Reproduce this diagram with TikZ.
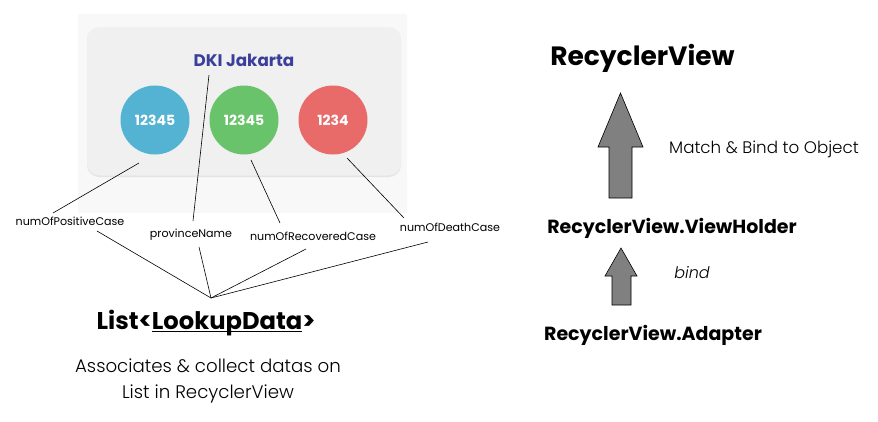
\documentclass[tikz,border=0pt]{standalone}
\usepackage{fontspec}
\setmainfont{Poppins}
\newfontfamily\poplight{Poppins Light}
\definecolor{panel}{HTML}{F8F8F8}
\definecolor{card}{HTML}{F0F0F0}
\definecolor{cardsh}{HTML}{E4E4E4}
\definecolor{cblue}{HTML}{54B3D3}
\definecolor{cgreen}{HTML}{69C36A}
\definecolor{cred}{HTML}{E86A69}
\definecolor{dki}{HTML}{3B3F9C}
\definecolor{arrowgray}{HTML}{808080}
\newcommand\myul[1]{\leavevmode\setbox0\hbox{#1}\rlap{\rule[-3pt]{\wd0}{1pt}}\box0}
\begin{document}
\begin{tikzpicture}[x=1pt,y=-1pt,
  circ/.style={circle,minimum size=69pt,inner sep=0pt,text=white,font=\bfseries\fontsize{14}{16}\selectfont},
  lbl/.style={inner sep=0pt,anchor=base,font=\fontsize{11.1}{13}\selectfont},
  conn/.style={draw=black,line width=0.6pt},
  bigtxt/.style={inner sep=0pt,anchor=base,font=\bfseries\fontsize{26.5}{30}\selectfont},
  midtxt/.style={inner sep=0pt,anchor=base,font=\bfseries\fontsize{19}{22}\selectfont},
  desc/.style={inner sep=0pt,anchor=base,font=\poplight\fontsize{18.2}{21}\selectfont},
  blockarrow/.style={fill=arrowgray,draw=black,line width=0.6pt}]
\useasboundingbox (0,0) rectangle (878,421);
% panel and card
\fill[panel] (78,14) rectangle (407,213);
\fill[cardsh,rounded corners=12pt] (87,28) rectangle (401,177);
\fill[card,rounded corners=12pt] (87,27) rectangle (401,175.5);
\node[inner sep=0pt,anchor=base,text=dki,font=\bfseries\fontsize{16.8}{19}\selectfont] (dkin) at (244,66) {DKI Jakarta};
\node[circ,fill=cblue] (cb) at (155,120) {12345};
\node[circ,fill=cgreen] (cg) at (244,120) {12345};
\node[circ,fill=cred] (cr) at (333,120) {1234};
% labels
\node[lbl] (lpos) at (70,225) {numOfPositiveCase};
\node[lbl] (lprov) at (191,237.5) {provinceName};
\node[lbl] (lrec) at (313,240.5) {numOfRecoveredCase};
\node[lbl] (ldeath) at (450,231.5) {numOfDeathCase};
% connector ends
\coordinate (pb) at (139,163);
\coordinate (pb2) at (53,213);
\coordinate (pd) at (209,75);
\coordinate (pd2) at (193,221);
\coordinate (pg) at (251,160);
\coordinate (pg2) at (280,223);
\coordinate (pr) at (347,158);
\coordinate (pr2) at (404,218);
\coordinate (qpos) at (97,231);
\coordinate (qprov) at (199,247);
\coordinate (qrec) at (306,249);
\coordinate (qdeath) at (428,242);
\coordinate (hub) at (211,298);
\draw[conn] (pb) -- (pb2);
\draw[conn] (pd) -- (pd2);
\draw[conn] (pg) -- (pg2);
\draw[conn] (pr) -- (pr2);
\draw[conn] (qpos) -- (hub);
\draw[conn] (qprov) -- (hub);
\draw[conn] (qrec) -- (hub);
\draw[conn] (qdeath) -- (hub);
% list
\node[inner sep=0pt,anchor=base,font=\bfseries\fontsize{24.2}{28}\selectfont] (list) at (206,329) {List<\myul{LookupData}>};
\node[desc] (as1) at (208,372) {Associates \& collect datas on};
\node[desc] (as2) at (208,398) {List in RecyclerView};
% right side
\node[bigtxt] (rv) at (642.5,65) {RecyclerView};
\node[midtxt] (vh) at (672,233) {RecyclerView.ViewHolder};
\node[midtxt] (ad) at (653,340) {RecyclerView.Adapter};
\node[desc,anchor=base west,font=\poplight\fontsize{16.7}{19}\selectfont] (mb) at (669,153) {Match \& Bind to Object};
\node[desc,anchor=base,font=\poplight\itshape\fontsize{16}{19}\selectfont] (bd) at (692,278) {bind};
\draw[blockarrow] (620.5,93) -- (643,147) -- (632,147) -- (632,198) -- (609,198) -- (609,147) -- (598,147) -- cycle;
\draw[blockarrow] (621,248) -- (637,276) -- (631,276) -- (631,305) -- (612,305) -- (612,276) -- (605,276) -- cycle;
\end{tikzpicture}
\end{document}
